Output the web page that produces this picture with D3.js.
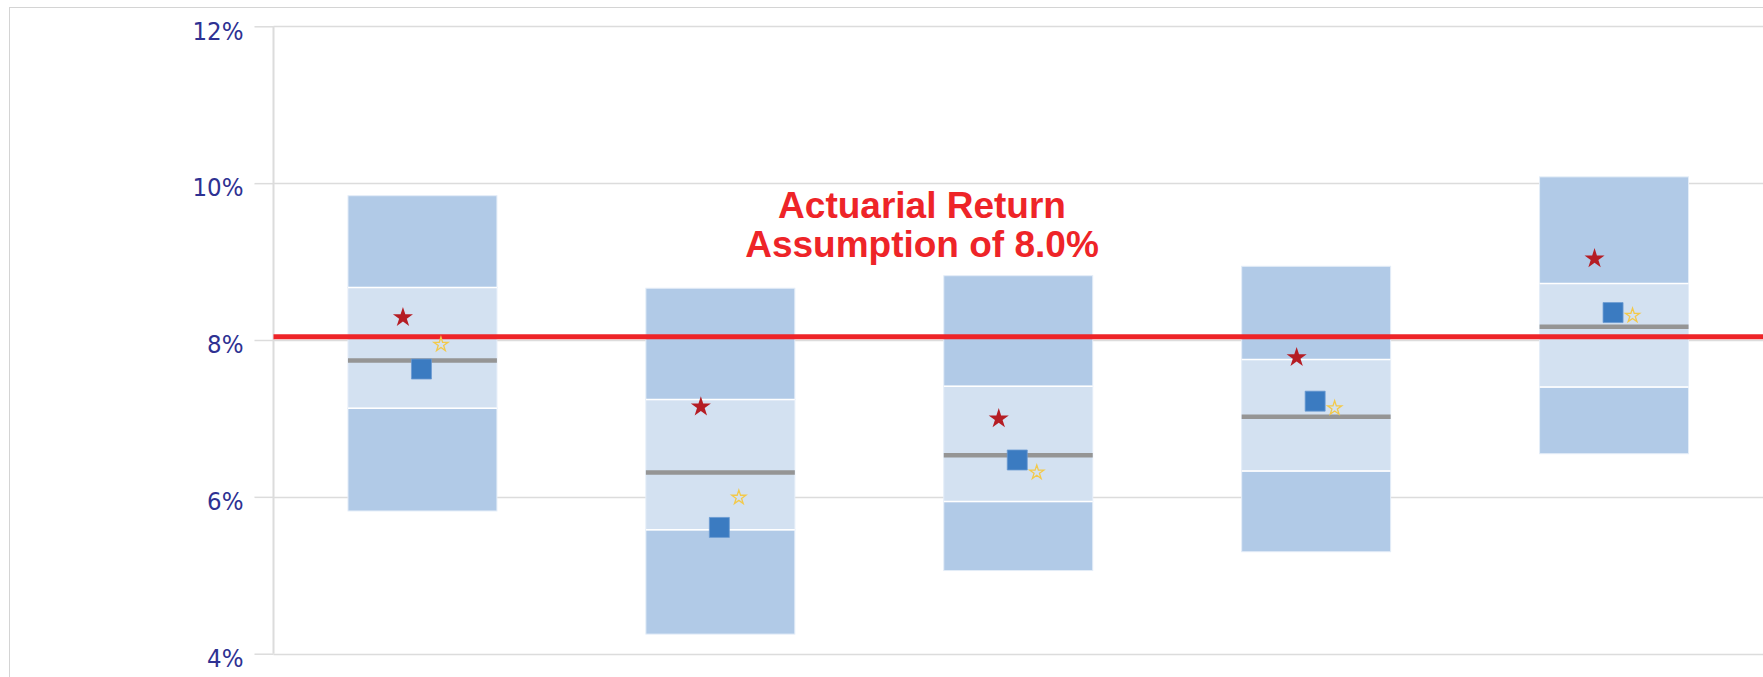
<!DOCTYPE html>
<html>
<head>
<meta charset="utf-8">
<script src="https://cdn.jsdelivr.net/npm/d3@7"></script>
<style>
  body { margin: 0; background: #fff; }
  svg { display: block; }
</style>
</head>
<body>
<div id="chart"></div>
<script>
// ranges, in percent
const categories = ['Group 1', 'Group 2', 'Group 3', 'Group 4', 'Group 5'];
const rangeTop = [9.84, 8.66, 8.82, 8.94, 10.08];
const upperMid = [8.67, 7.24, 7.41, 7.75, 8.72];
const medians = [7.74, 6.31, 6.53, 7.02, 8.17];
const lowerMid = [7.13, 5.58, 5.94, 6.33, 7.40];
const rangeBottom = [5.82, 4.25, 5.06, 5.30, 6.55];
const redStars = [8.30, 7.16, 7.01, 7.79, 9.05];
const yellowStars = [7.95, 6.00, 6.32, 7.14, 8.32];
const squares = [7.63, 5.61, 6.47, 7.22, 8.35];
const yTicks = [4, 6, 8, 10, 12];
const assumptionLine = 8.04;
const assumptionLabel = ['Actuarial Return', 'Assumption of 8.0%'];

const width = 1763;
const height = 677;
const plotLeft = 273.5;
const plotRight = 1763;

const svg = d3
  .select('#chart')
  .append('svg')
  .attr('width', width)
  .attr('height', height);

// outer frame (cropped on the right and bottom)
svg
  .append('rect')
  .attr('x', 9.5)
  .attr('y', 7.5)
  .attr('width', width)
  .attr('height', height)
  .attr('fill', 'none')
  .attr('stroke', '#d4d4d4')
  .attr('stroke-width', 1);

const y = d3.scaleLinear().domain([4, 12]).range([653.7, 26.3]);

const x = d3
  .scaleBand()
  .domain(categories)
  .range([plotLeft, plotRight])
  .paddingInner(0.5)
  .paddingOuter(0.25);

// gridlines
svg
  .append('g')
  .selectAll('line')
  .data(yTicks)
  .enter()
  .append('line')
  .attr('x1', plotLeft)
  .attr('x2', plotRight)
  .attr('y1', (d) => Math.round(y(d)) + 0.5)
  .attr('y2', (d) => Math.round(y(d)) + 0.5)
  .attr('stroke', '#dcdcdc')
  .attr('stroke-width', 1.5);

// y axis
const yAxis = svg
  .append('g')
  .attr('transform', `translate(${plotLeft},0)`)
  .call(
    d3
      .axisLeft(y)
      .tickValues(yTicks)
      .tickFormat((d) => d + '%')
      .tickSize(19)
      .tickPadding(11)
  );
yAxis.select('.domain').remove();
yAxis
  .selectAll('.tick line')
  .attr('stroke', '#dcdcdc')
  .attr('stroke-width', 1.5);
yAxis
  .selectAll('.tick text')
  .attr('fill', '#2e3192')
  .attr('dy', '0.5em')
  .style('font-family', '"DejaVu Sans Condensed", "DejaVu Sans", sans-serif')
  .style('font-stretch', 'condensed')
  .style('font-size', '25.5px');

svg
  .append('line')
  .attr('x1', plotLeft)
  .attr('x2', plotLeft)
  .attr('y1', y(12))
  .attr('y2', y(4))
  .attr('stroke', '#dcdcdc')
  .attr('stroke-width', 2);

// boxes
const boxes = svg.append('g');
const bw = x.bandwidth();
categories.forEach((c, i) => {
  const g = boxes.append('g');
  const bands = [
    [rangeBottom[i], lowerMid[i], '#b1cae7'],
    [lowerMid[i], upperMid[i], '#d3e1f1'],
    [upperMid[i], rangeTop[i], '#b1cae7'],
  ];
  g.selectAll('rect')
    .data(bands)
    .enter()
    .append('rect')
    .attr('x', x(c))
    .attr('width', bw)
    .attr('y', (d) => y(d[1]))
    .attr('height', (d) => y(d[0]) - y(d[1]))
    .attr('fill', (d) => d[2])
    .attr('stroke', '#e4edf8')
    .attr('stroke-width', 1);

  g.selectAll('line.sep')
    .data([lowerMid[i], upperMid[i]])
    .enter()
    .append('line')
    .attr('class', 'sep')
    .attr('x1', x(c))
    .attr('x2', x(c) + bw)
    .attr('y1', (d) => y(d))
    .attr('y2', (d) => y(d))
    .attr('stroke', '#ffffff')
    .attr('stroke-width', 1.5);

  g.append('line')
    .attr('x1', x(c))
    .attr('x2', x(c) + bw)
    .attr('y1', y(medians[i]))
    .attr('y2', y(medians[i]))
    .attr('stroke', '#959595')
    .attr('stroke-width', 4.5);
});

// actuarial assumption line
svg
  .append('line')
  .attr('x1', plotLeft)
  .attr('x2', plotRight)
  .attr('y1', y(assumptionLine))
  .attr('y2', y(assumptionLine))
  .attr('stroke', '#ee2428')
  .attr('stroke-width', 5);

// markers
const cx = (c) => x(c) + bw / 2;

svg
  .append('g')
  .selectAll('path')
  .data(categories)
  .enter()
  .append('path')
  .attr('d', d3.symbol(d3.symbolStar, 125))
  .attr('transform', (c, i) => `translate(${cx(c) - 19.5},${y(redStars[i]) + 1})`)
  .attr('fill', '#b51d24');

svg
  .append('g')
  .selectAll('path')
  .data(categories)
  .enter()
  .append('path')
  .attr('d', d3.symbol(d3.symbolStar, 62))
  .attr('transform', (c, i) => `translate(${cx(c) + 18.5},${y(yellowStars[i]) + 0.7})`)
  .attr('fill', 'none')
  .attr('stroke', '#f3c94a')
  .attr('stroke-width', 1.3);

svg
  .append('g')
  .selectAll('path')
  .data(categories)
  .enter()
  .append('path')
  .attr('d', d3.symbol(d3.symbolSquare, 400))
  .attr('transform', (c, i) => `translate(${cx(c) - 1},${y(squares[i])})`)
  .attr('fill', '#3b7bc1')
  .attr('stroke', '#6b9bd2')
  .attr('stroke-width', 0.8);

// annotation
svg
  .append('text')
  .attr('x', 922)
  .attr('y', 218)
  .attr('text-anchor', 'middle')
  .attr('fill', '#ee2428')
  .style('font-family', '"Liberation Sans", Arial, sans-serif')
  .style('font-weight', 'bold')
  .style('font-size', '37px')
  .selectAll('tspan')
  .data(assumptionLabel)
  .enter()
  .append('tspan')
  .attr('x', 922)
  .attr('dy', (d, i) => (i === 0 ? 0 : 39))
  .text((d) => d);
</script>
</body>
</html>
